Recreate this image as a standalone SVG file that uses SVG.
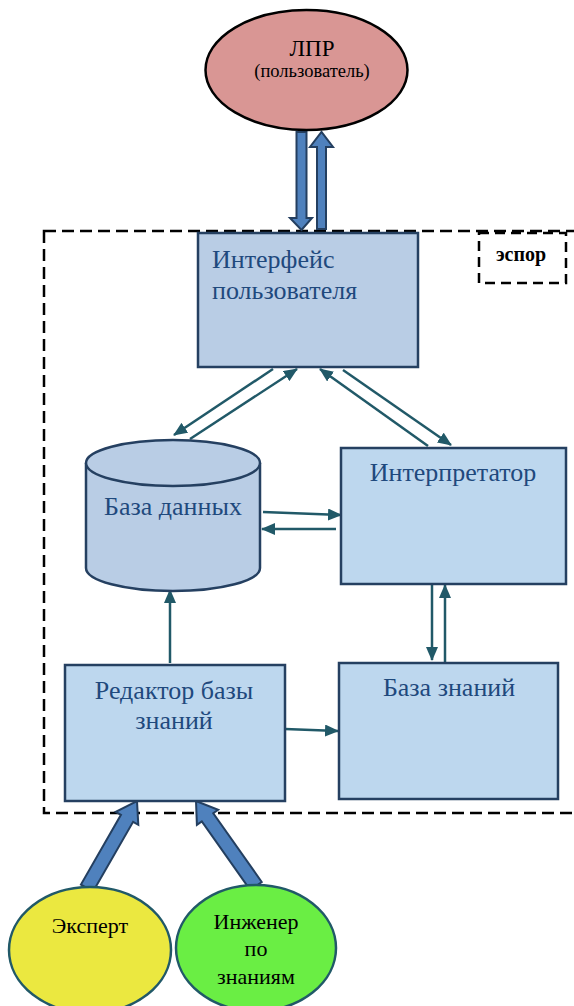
<svg xmlns="http://www.w3.org/2000/svg" width="574" height="1006" viewBox="0 0 574 1006">
<style>
.box{fill:#BDD7EE;stroke:#254061;stroke-width:2.5}
.t{font-family:'Liberation Serif','DejaVu Serif',serif;fill:#1F497D;font-size:26px}
.tb{font-family:'Liberation Serif','DejaVu Serif',serif;fill:#000}
.c{stroke:#215968;stroke-width:2.5;fill:none;marker-end:url(#ah)}
.big{fill:#4F81BD;stroke:#243F60;stroke-width:2}
</style>
<defs>
<marker id="ah" markerWidth="14" markerHeight="12" refX="13" refY="6" orient="auto" markerUnits="userSpaceOnUse">
<path d="M0,0 L14,6 L0,12 Z" fill="#215968"/>
</marker>
</defs>
<g id="boundary">
<rect x="44" y="231" width="540" height="582" fill="none" stroke="#000" stroke-width="2.5" stroke-dasharray="12,6"/>
</g>
<g id="espor">
<rect x="479" y="233" width="87" height="50" fill="#fff" stroke="#000" stroke-width="2.5" stroke-dasharray="10,6"/>
<text class="tb" x="521" y="261" font-size="20" font-weight="bold" text-anchor="middle">эспор</text>
</g>
<g id="connectors">
<polygon class="big" points="296.5,132 306.5,132 306.5,218 312,218 301.5,230 290,218 296.5,218"/>
<polygon class="big" points="317,229 326,229 326,147 333,147 321.5,132 310,147 317,147"/>
<polygon class="big" points="93.07,891.49 133.1,821.84 138.3,824.83 137,801 115.75,811.87 120.96,814.86 80.93,884.51"/>
<polygon class="big" points="261.72,881.96 213.25,813.3 218.15,809.84 196,801 196.91,824.84 201.81,821.38 250.28,890.04"/>
<line class="c" x1="273" y1="369" x2="174" y2="435"/>
<line class="c" x1="190" y1="439" x2="297" y2="369"/>
<line class="c" x1="343" y1="370" x2="451" y2="445"/>
<line class="c" x1="428" y1="446" x2="320" y2="369"/>
<line class="c" x1="263" y1="512" x2="341" y2="515"/>
<line class="c" x1="336" y1="529" x2="262" y2="529"/>
<line class="c" x1="170" y1="663" x2="170" y2="590"/>
<line class="c" x1="432" y1="585" x2="432" y2="660"/>
<line class="c" x1="445" y1="662" x2="445" y2="585"/>
<line class="c" x1="285" y1="729" x2="338" y2="731"/>
</g>
<g id="lpr">
<ellipse cx="306.5" cy="70" rx="101" ry="60" fill="#D99694" stroke="#000" stroke-width="2.5"/>
<text class="tb" x="312" y="56" font-size="23" text-anchor="middle">ЛПР</text>
<text class="tb" x="312" y="77" font-size="18.5" text-anchor="middle">(пользователь)</text>
</g>
<g id="interface">
<rect x="198" y="233" width="220" height="134" fill="#B9CDE5" stroke="#254061" stroke-width="2.5"/>
<text class="t" x="212" y="268">Интерфейс</text>
<text class="t" x="212" y="299">пользователя</text>
</g>
<g id="database">
<path d="M86,463 L86,568 A87,23 0 0 0 260,568 L260,463" fill="#B9CDE5" stroke="#254061" stroke-width="2.5"/>
<ellipse cx="173" cy="463" rx="87" ry="23" fill="#B9CDE5" stroke="#254061" stroke-width="2.5"/>
<text class="t" x="173" y="515" text-anchor="middle">База данных</text>
</g>
<g id="interpreter">
<rect class="box" x="341" y="448" width="225" height="136"/>
<text class="t" x="453" y="481" text-anchor="middle">Интерпретатор</text>
</g>
<g id="editor">
<rect class="box" x="65" y="665" width="220" height="136"/>
<text class="t" x="174" y="699" text-anchor="middle">Редактор базы</text>
<text class="t" x="174" y="729" text-anchor="middle">знаний</text>
</g>
<g id="kb">
<rect class="box" x="339" y="663" width="219" height="136"/>
<text class="t" x="449" y="696" text-anchor="middle">База знаний</text>
</g>
<g id="expert">
<ellipse cx="90" cy="950" rx="81" ry="63" fill="#EBE840" stroke="#215968" stroke-width="2.5"/>
<text class="tb" x="90" y="933" font-size="22" text-anchor="middle">Эксперт</text>
</g>
<g id="engineer">
<ellipse cx="256" cy="948" rx="80" ry="63" fill="#6AEE44" stroke="#215968" stroke-width="2.5"/>
<text class="tb" x="256" y="929" font-size="22" text-anchor="middle">Инженер</text>
<text class="tb" x="256" y="956" font-size="22" text-anchor="middle">по</text>
<text class="tb" x="256" y="984" font-size="22" text-anchor="middle">знаниям</text>
</g>
</svg>
